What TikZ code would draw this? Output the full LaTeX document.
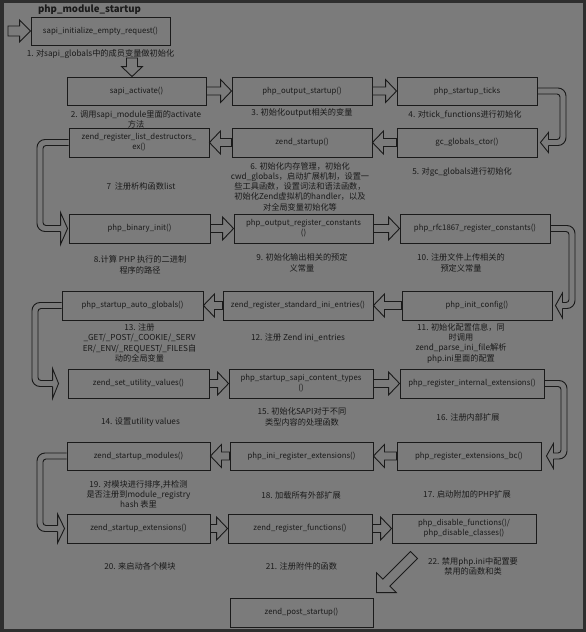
\documentclass[tikz,border=0pt]{standalone}
\usepackage{fontspec}
\setmainfont{Noto Sans CJK SC}
\usetikzlibrary{calc}
\definecolor{outerbg}{HTML}{2E2E2E}
\definecolor{panelbg}{HTML}{7B7B7B}
\definecolor{ink}{HTML}{1A1A1A}
\tikzset{
  ln/.style={draw=ink, line width=0.9pt, line join=miter},
  blk/.style={draw=ink, line width=0.9pt, line join=miter},
  box/.style={draw=ink, line width=0.9pt, inner sep=1pt, align=center, text=ink,
    font=\fontsize{7.8}{10}\selectfont},
  lab/.style={inner sep=0pt, align=center, text=ink, font=\fontsize{8.2}{10.3}\selectfont},
}
% box: name, x1, y1, x2, y2, text (pixel coordinates)
\newcommand{\bx}[6]{\node[box, minimum width={#4pt-#2pt}, minimum height={#5pt-#3pt}] (#1) at ({(#2+#4)/2},{(#3+#5)/2}) {#6};}
% right block arrow from #1.east to #2.west
\newcommand{\rarr}[2]{\draw[blk] let \p1=(#1.east), \p2=(#2.west) in
  (\x1,\y1+4pt) -- (\x2-11pt,\y1+4pt) -- (\x2-11pt,\y1+11.5pt) -- (\x2,\y1)
  -- (\x2-11pt,\y1-11.5pt) -- (\x2-11pt,\y1-4pt) -- (\x1,\y1-4pt) -- cycle;}
% left block arrow from #1.west to #2.east
\newcommand{\larr}[2]{\draw[blk] let \p1=(#1.west), \p2=(#2.east) in
  (\x1,\y1+4pt) -- (\x2+11pt,\y1+4pt) -- (\x2+11pt,\y1+11.5pt) -- (\x2,\y1)
  -- (\x2+11pt,\y1-11.5pt) -- (\x2+11pt,\y1-4pt) -- (\x1,\y1-4pt) -- cycle;}
% right U-turn: from, to, outer x, head half height, head length, gap
\newcommand{\ruarr}[6]{%
  \draw[ln, rounded corners=8pt] let \p1=(#1.east), \p2=(#2.east) in
    (\x1,\y1+3pt) -- (#3pt,\y1+3pt) -- (#3pt,\y2-3pt) -- (\x2+#6pt+#5pt,\y2-3pt);
  \draw[ln, rounded corners=3pt] let \p1=(#1.east), \p2=(#2.east) in
    (\x1,\y1-3pt) -- (#3pt-6pt,\y1-3pt) -- (#3pt-6pt,\y2+3pt) -- (\x2+#6pt+#5pt,\y2+3pt);
  \draw[ln] let \p2=(#2.east) in
    (\x2+#6pt+#5pt,\y2-3pt) -- (\x2+#6pt+#5pt,\y2-#4pt) -- (\x2+#6pt,\y2)
    -- (\x2+#6pt+#5pt,\y2+#4pt) -- (\x2+#6pt+#5pt,\y2+3pt);}
% left U-turn
\newcommand{\luarr}[6]{%
  \draw[ln, rounded corners=8pt] let \p1=(#1.west), \p2=(#2.west) in
    (\x1,\y1+3pt) -- (#3pt,\y1+3pt) -- (#3pt,\y2-3pt) -- (\x2-#6pt-#5pt,\y2-3pt);
  \draw[ln, rounded corners=3pt] let \p1=(#1.west), \p2=(#2.west) in
    (\x1,\y1-3pt) -- (#3pt+6pt,\y1-3pt) -- (#3pt+6pt,\y2+3pt) -- (\x2-#6pt-#5pt,\y2+3pt);
  \draw[ln] let \p2=(#2.west) in
    (\x2-#6pt-#5pt,\y2-3pt) -- (\x2-#6pt-#5pt,\y2-#4pt) -- (\x2-#6pt,\y2)
    -- (\x2-#6pt-#5pt,\y2+#4pt) -- (\x2-#6pt-#5pt,\y2+3pt);}
\begin{document}
\begin{tikzpicture}[x=1pt,y=-1pt]
\useasboundingbox (0,0) rectangle (586,632);
\fill[outerbg] (0,0) rectangle (586,632);
\fill[panelbg] (4,3) rectangle (583,629);

\node[text=ink, inner sep=0pt, font=\fontsize{9.6}{12}\selectfont\bfseries] (title) at (89.5,10) {php\_module\_startup};

% boxes
\bx{b0}{31}{17}{170}{45}{sapi\_initialize\_empty\_request()}
\bx{b1}{67}{77}{206}{105}{sapi\_activate()}
\bx{b2}{232}{77}{372}{105}{php\_output\_startup()}
\bx{b3}{397}{77}{537}{105}{php\_startup\_ticks}
\bx{b4}{397}{128}{537}{157}{gc\_globals\_ctor()}
\bx{b5}{232}{128}{372}{157}{zend\_startup()}
\bx{b6}{69}{128}{209}{157}{zend\_register\_list\_destructors\_\\ex()}
\bx{b7}{69}{214}{210}{243}{php\_binary\_init()}
\bx{b8}{234}{214}{373}{243}{php\_output\_register\_constants\\()}
\bx{b9}{400}{214}{550}{243}{php\_rfc1867\_register\_constants()}
\bx{b10}{402}{291}{552}{320}{php\_init\_config()}
\bx{b11}{223}{291}{373}{320}{zend\_register\_standard\_ini\_entries()}
\bx{b12}{62}{291}{203}{320}{php\_startup\_auto\_globals()}
\bx{b13}{68}{369}{209}{398}{zend\_set\_utility\_values()}
\bx{b14}{229}{369}{373}{398}{php\_startup\_sapi\_content\_types\\()}
\bx{b15}{400}{369}{544}{398}{php\_register\_internal\_extensions()}
\bx{b16}{397}{442}{541}{470}{php\_register\_extensions\_bc()}
\bx{b17}{230}{442}{373}{470}{php\_ini\_register\_extensions()}
\bx{b18}{67}{442}{210}{470}{zend\_startup\_modules()}
\bx{b19}{67}{514}{210}{543}{zend\_startup\_extensions()}
\bx{b20}{228}{514}{372}{543}{zend\_register\_functions()}
\bx{b21}{392}{514}{536}{543}{php\_disable\_functions()/\\php\_disable\_classes()}
\bx{b22}{230}{598}{373}{627}{zend\_post\_startup()}

% labels
\node[lab] (l1) at (100.5,54) {1. 对sapi\_globals中的成员变量做初始化};
\node[lab] (l2) at (136,119.5) {2. 调用sapi\_module里面的activate\\方法};
\node[lab] (l3) at (302,113) {3. 初始化output相关的变量};
\node[lab] (l4) at (465,115) {4. 对tick\_functions进行初始化};
\node[lab] (l5) at (462,172) {5. 对gc\_globals进行初始化};
\node[lab] (l6) at (300,186.5) {6. 初始化内存管理，初始化\\cwd\_globals，启动扩展机制，设置一\\些工具函数，设置词法和语法函数，\\初始化Zend虚拟机的handler，以及\\对全局变量初始化等};
\node[lab] (l7) at (141,186) {7~~注册析构函数list};
\node[lab] (l8) at (140,265) {8.计算 PHP 执行的二进制\\程序的路径};
\node[lab] (l9) at (302,263) {9. 初始化输出相关的预定\\义常量};
\node[lab] (l10) at (461,263) {10. 注册文件上传相关的\\预定义常量};
\node[lab] (l11) at (461,343) {11. 初始化配置信息，同\\时调用\\zend\_parse\_ini\_file解析\\php.ini里面的配置};
\node[lab] (l12) at (298,338) {12. 注册 Zend ini\_entries};
\node[lab] (l13) at (139.5,343) {13. 注册\\\_GET/\_POST/\_COOKIE/\_SERV\\ER/\_ENV/\_REQUEST/\_FILES自\\动的全局变量};
\node[lab] (l14) at (140.5,422) {14. 设置utility values};
\node[lab] (l15) at (302,417) {15. 初始化SAPI对于不同\\类型内容的处理函数};
\node[lab] (l16) at (468,417) {16. 注册内部扩展};
\node[lab] (l17) at (467,494) {17. 启动附加的PHP扩展};
\node[lab] (l18) at (301,495) {18. 加载所有外部扩展};
\node[lab] (l19) at (138.5,494.5) {19. 对模块进行排序,并检测\\是否注册到module\_registry\\hash 表里};
\node[lab] (l20) at (140,566) {20. 来启动各个模块};
\node[lab] (l21) at (301.5,566) {21. 注册附件的函数};
\node[lab] (l22) at (473,566.5) {22. 禁用php.ini中配置要\\禁用的函数和类};

% entry arrow
\coordinate (entry) at (8,31);
\draw[blk] let \p1=(entry), \p2=(b0.west) in
  (\x1,\y1+5pt) -- (\x2-11pt,\y1+5pt) -- (\x2-11pt,\y1+11pt) -- (\x2,\y1)
  -- (\x2-11pt,\y1-11pt) -- (\x2-11pt,\y1-5pt) -- (\x1,\y1-5pt) -- cycle;

% down arrow
\coordinate (down) at (132,58);
\draw[blk] let \p1=(down), \p2=(b1.north) in
  (\x1-5.5pt,\y1) -- (\x1-5.5pt,\y2+10pt) -- (\x1-10.5pt,\y2+10pt) -- (\x1,\y2)
  -- (\x1+10.5pt,\y2+10pt) -- (\x1+5.5pt,\y2+10pt) -- (\x1+5.5pt,\y1) -- cycle;

% row arrows
\rarr{b1}{b2}\rarr{b2}{b3}
\larr{b4}{b5}\larr{b5}{b6}
\rarr{b7}{b8}\rarr{b8}{b9}
\larr{b10}{b11}\larr{b11}{b12}
\rarr{b13}{b14}\rarr{b14}{b15}
\larr{b16}{b17}\larr{b17}{b18}
\rarr{b19}{b20}\rarr{b20}{b21}

% U-turns
\ruarr{b3}{b4}{566}{10}{8}{3}
\ruarr{b9}{b10}{575}{12.5}{7}{3}
\ruarr{b15}{b16}{567}{12.5}{7}{5}
\luarr{b6}{b7}{37}{16}{7}{1}
\luarr{b12}{b13}{32}{15}{6}{9}
\luarr{b18}{b19}{37}{14.5}{7}{2}

% diagonal arrow to zend_post_startup
\coordinate (dtail) at (414,555);
\coordinate (dtip) at ($(b22.north east)+(3,-5)$);
\draw[blk] ($(dtail)+(-3.5,-3.5)$) -- ($(dtip)+(6.4,-13.4)$) -- ($(dtip)+(0,-19.8)$)
  -- (dtip) -- ($(dtip)+(19.8,0)$) -- ($(dtip)+(13.4,-6.4)$) -- ($(dtail)+(3.5,3.5)$) -- cycle;
\end{tikzpicture}
\end{document}
